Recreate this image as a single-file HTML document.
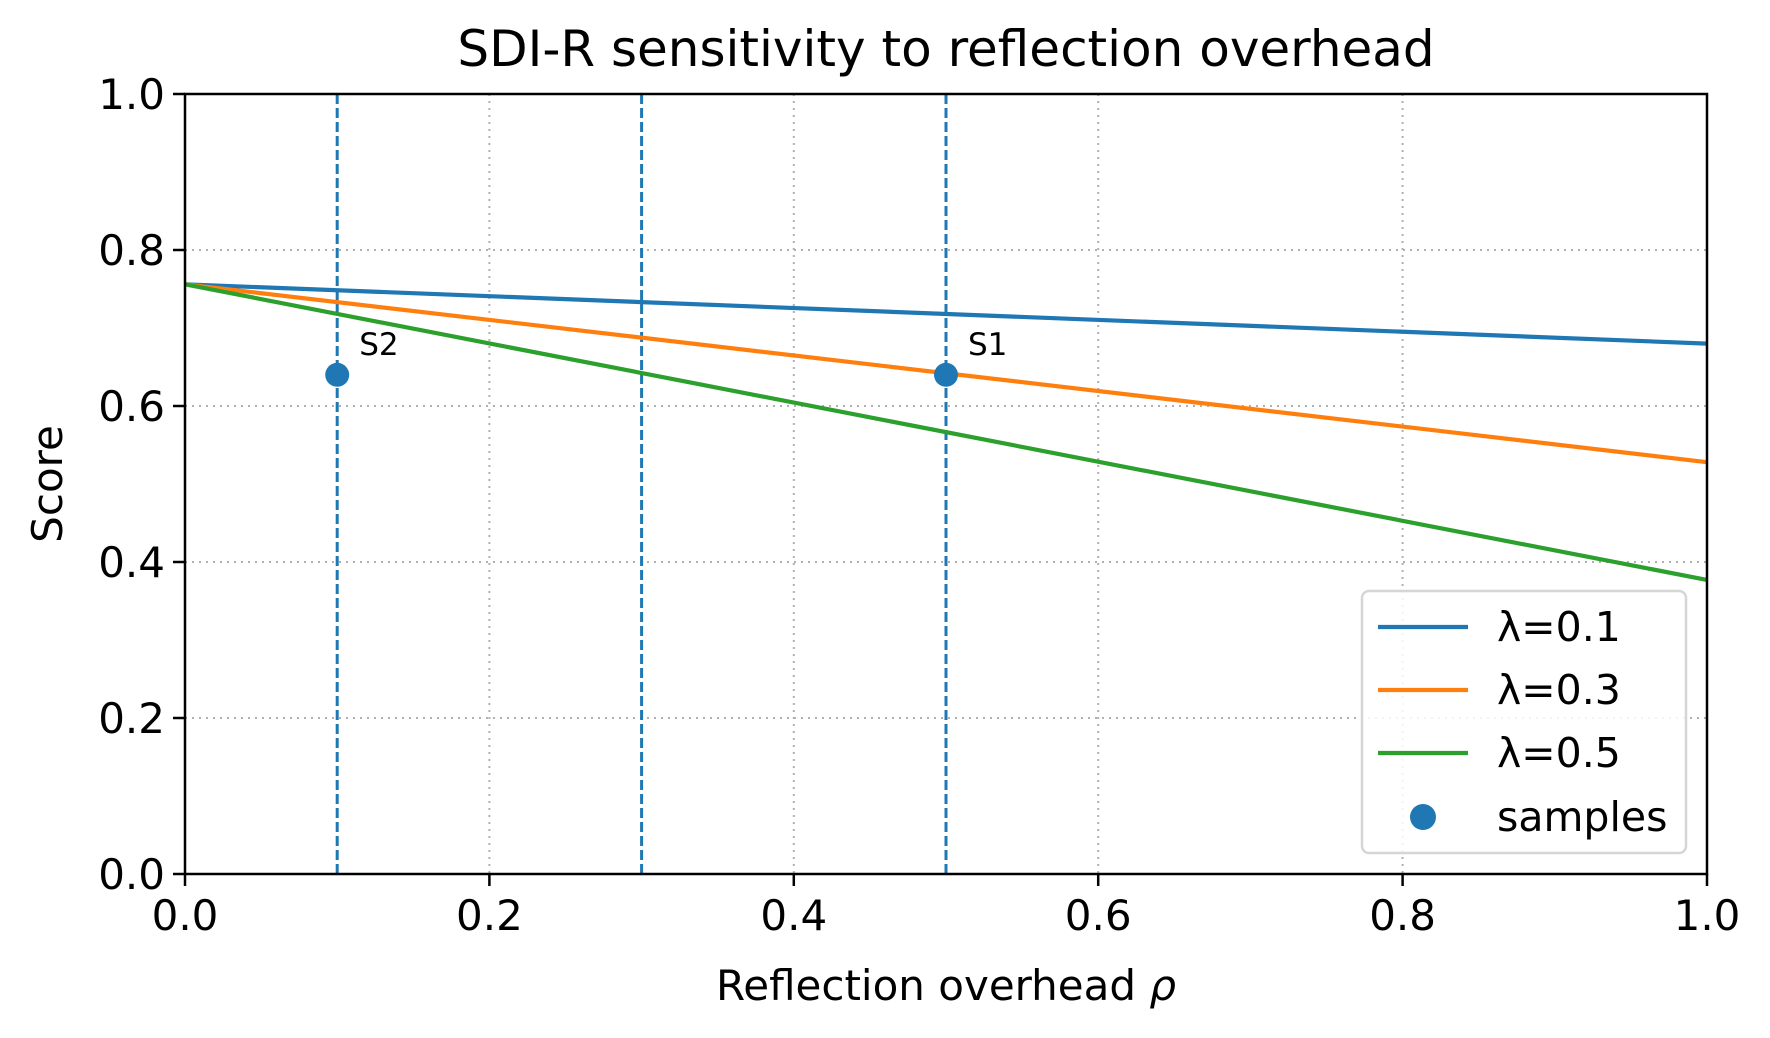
<!DOCTYPE html>
<html><head><meta charset="utf-8"><style>
html,body{margin:0;padding:0;background:#fff}
svg{display:block;font-family:"DejaVu Sans","Liberation Sans",sans-serif}
</style></head><body>
<svg id="chart" width="1770" height="1038" viewBox="0 0 1770 1038"></svg>
<script>
const rho = [0, 1];
const seriesNames = ["λ=0.1", "λ=0.3", "λ=0.5"];
const lam01 = [0.756, 0.680];
const lam03 = [0.756, 0.528];
const lam05 = [0.756, 0.377];
const sampleX = [0.1, 0.5];
const sampleY = [0.64, 0.64];
const sampleLabels = ["S2", "S1"];
const vlines = [0.1, 0.3, 0.5];
const xTicks = [0, 0.2, 0.4, 0.6, 0.8, 1.0];
const yTicks = [0, 0.2, 0.4, 0.6, 0.8, 1.0];

const L=185, R=1707, T=94, B=874;
const NS="http://www.w3.org/2000/svg";
const svg=document.getElementById('chart');
const sx=v=>L+v*(R-L), sy=v=>B-v*(B-T);
function el(tag,attrs,parent){const e=document.createElementNS(NS,tag);for(const k in attrs)e.setAttribute(k,attrs[k]);(parent||svg).appendChild(e);return e;}
xTicks.forEach(t=>{const g=el('line',{x1:sx(t),x2:sx(t),y1:T,y2:B,stroke:'#b0b0b0','stroke-width':2,'stroke-dasharray':'2,5'});

});
yTicks.forEach(t=>{const g=el('line',{x1:L,x2:R,y1:sy(t),y2:sy(t),stroke:'#b0b0b0','stroke-width':2,'stroke-dasharray':'2,5'});

});
vlines.forEach(v=>{const l=el('line',{x1:sx(v),x2:sx(v),y1:T,y2:B,stroke:'#1f77b4','stroke-width':3,'stroke-dasharray':'10,4'});

});
const colors=['#1f77b4','#ff7f0e','#2ca02c'];
[lam01,lam03,lam05].forEach((s,i)=>{const p=el('polyline',{points:rho.map((r,j)=>sx(r)+','+sy(s[j])).join(' '),fill:'none',stroke:colors[i],'stroke-width':4.2});

});
sampleX.forEach((x,i)=>{const c=el('circle',{cx:sx(x),cy:sy(sampleY[i]),r:12,fill:'#1f77b4'});


const t=el('text',{x:sx(x)+22,y:sy(sampleY[i])-20,'font-size':31,fill:'#000'});t.textContent=sampleLabels[i];

});
const fr=el('rect',{x:L,y:T,width:R-L,height:B-T,fill:'none',stroke:'#000','stroke-width':2.5});


xTicks.forEach(t=>{el('line',{x1:sx(t),x2:sx(t),y1:B,y2:B+12,stroke:'#000','stroke-width':2.5});
const tx=el('text',{x:sx(t),y:B+56,'font-size':42,'text-anchor':'middle'});tx.textContent=t.toFixed(1);

});
yTicks.forEach(t=>{el('line',{x1:L-12,x2:L,y1:sy(t),y2:sy(t),stroke:'#000','stroke-width':2.5});
const tx=el('text',{x:L-20,y:sy(t)+15,'font-size':42,'text-anchor':'end'});tx.textContent=t.toFixed(1);

});
let t=el('text',{x:(L+R)/2,y:66,'font-size':50,'text-anchor':'middle'});t.textContent='SDI-R sensitivity to reflection overhead';


t=el('text',{x:(L+R)/2,y:1000,'font-size':42,'text-anchor':'middle'});t.innerHTML='Reflection overhead  <tspan font-style="italic">ρ</tspan>';


t=el('text',{x:0,y:0,'font-size':42,'text-anchor':'middle',transform:`translate(62,${(T+B)/2}) rotate(-90)`});t.textContent='Score';


const lg=el('g',{});


el('rect',{x:1362,y:591,width:324,height:262,rx:7,fill:'#fff','fill-opacity':0.85,stroke:'#d6d6d6','stroke-width':2.5},lg);
seriesNames.forEach((n,i)=>{const y=627+i*63;
el('line',{x1:1378,x2:1468,y1:y,y2:y,stroke:colors[i],'stroke-width':4.2},lg);
const tx=el('text',{x:1497,y:y+14,'font-size':41},lg);tx.textContent=n;

});
el('circle',{cx:1423,cy:817,r:13,fill:'#1f77b4'},lg);
const st=el('text',{x:1497,y:831,'font-size':41},lg);st.textContent='samples';


</script>
</body></html>
